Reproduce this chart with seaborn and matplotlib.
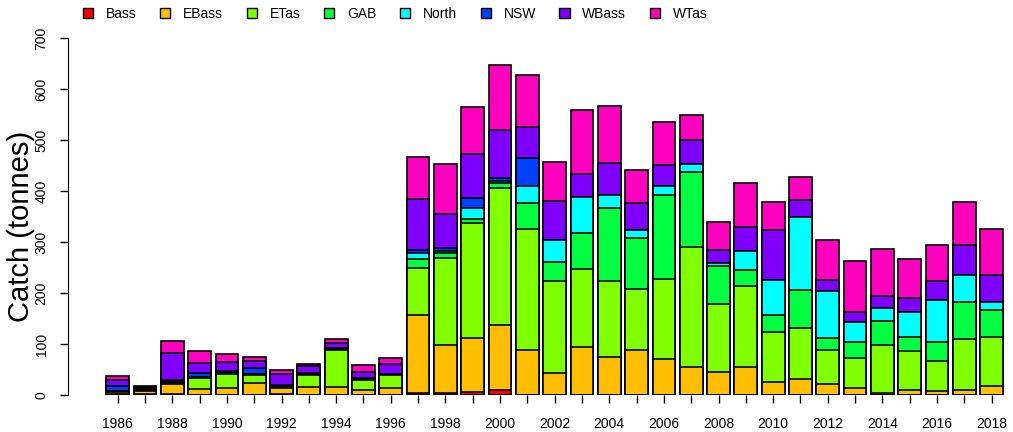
import numpy as np
import pandas as pd
import matplotlib
matplotlib.use("Agg")
import matplotlib.pyplot as plt
from matplotlib.patches import Patch
import seaborn as sns

# catch by zone, 1986-2018 (tonnes)
years = list(range(1986, 2019))
zones = ["Bass", "EBass", "ETas", "GAB", "North", "NSW", "WBass", "WTas"]
colors = ["#FF0000", "#FFBF00", "#80FF00", "#00FF40",
          "#00FFFF", "#0040FF", "#8000FF", "#FF00BF"]

bass = [1, 1, 1, 0, 0, 0, 1, 0, 0, 0, 0, 3, 4, 6, 10, 0, 0, 0, 0, 0, 0,
        0, 0, 0, 0, 0, 0, 0, 0, 0, 0, 0, 0]
ebass = [5, 7, 20, 11, 13, 23, 13, 15, 15, 10, 14, 153, 94, 106, 127, 88,
         43, 94, 75, 88, 71, 54, 46, 54, 26, 32, 22, 14, 4, 10, 8, 10, 18]
etas = [1, 1, 3, 23, 28, 17, 1, 25, 73, 19, 25, 93, 171, 226, 268, 238,
        180, 153, 149, 119, 156, 236, 132, 160, 98, 99, 67, 59, 94, 76, 58,
        99, 96]
gab = [1, 1, 2, 1, 2, 1, 1, 1, 2, 1, 1, 18, 9, 8, 10, 50, 37, 71, 143,
       100, 166, 147, 74, 32, 32, 75, 22, 30, 47, 28, 38, 73, 52]
north = [0, 1, 1, 1, 1, 1, 0, 1, 1, 1, 0, 11, 4, 21, 5, 34, 43, 71, 25,
         17, 17, 16, 6, 36, 69, 144, 92, 40, 25, 49, 82, 53, 17]
nsw = [10, 2, 2, 8, 4, 10, 3, 1, 2, 2, 1, 6, 6, 19, 5, 55, 0, 0, 0, 0, 0,
       0, 0, 0, 0, 0, 0, 0, 0, 0, 0, 0, 0]
wbass = [12, 3, 53, 19, 17, 15, 22, 13, 9, 13, 20, 100, 67, 87, 95, 60,
         78, 44, 63, 52, 41, 47, 26, 47, 98, 32, 22, 19, 25, 27, 38, 59, 53]
wtas = [8, 2, 24, 24, 15, 7, 8, 4, 8, 13, 11, 83, 98, 92, 128, 102, 76,
        125, 112, 65, 84, 49, 56, 87, 55, 45, 79, 101, 92, 77, 71, 84, 89]

df = pd.DataFrame({"Year": [str(y) for y in years], "Bass": bass,
                   "EBass": ebass, "ETas": etas, "GAB": gab, "North": north,
                   "NSW": nsw, "WBass": wbass, "WTas": wtas})

# cumulative totals so each zone can be overdrawn from the top down
cum = df[zones].cumsum(axis=1)

sns.set_style("white")
plt.rcParams["font.family"] = ["Liberation Sans", "DejaVu Sans"]
plt.rcParams["text.color"] = "black"
plt.rcParams["xtick.color"] = "black"
plt.rcParams["ytick.color"] = "black"
plt.rcParams["axes.labelcolor"] = "black"

fig = plt.figure(figsize=(10.13, 4.32), dpi=100)
ax = fig.add_axes([68 / 1013, 37 / 432, 940 / 1013, 0.85])

for zone, col in reversed(list(zip(zones, colors))):
    sns.barplot(x=df["Year"], y=cum[zone], color=col, edgecolor="black",
                linewidth=1.2, width=0.833, saturation=1, ax=ax,
                order=df["Year"].tolist())

ax.set_xlim(-1.82, 32.6)
ax.set_ylim(0, 720)

for s in ["top", "right", "bottom"]:
    ax.spines[s].set_visible(False)
ax.spines["left"].set_bounds(0, 700)
ax.spines["left"].set_color("black")

ax.set_xticks(range(len(years)))
ax.set_xticklabels([str(y) if (y - 1986) % 2 == 0 else "" for y in years],
                   fontsize=10)
ax.set_yticks(range(0, 701, 100))
ax.set_yticklabels([str(v) for v in range(0, 701, 100)], fontsize=10,
                   rotation=90, va="center")
ax.tick_params(axis="x", length=6, width=1, pad=10, bottom=True)
ax.tick_params(axis="y", length=6, width=1, pad=8, left=True)

ax.set_xlabel("")
ax.set_ylabel("Catch (tonnes)", fontsize=21)
ax.yaxis.set_label_coords(-0.035, 0.46)

handles = [Patch(facecolor=c, edgecolor="black", linewidth=1) for c in colors]
fig.legend(handles, zones, loc="upper left", ncol=8,
           bbox_to_anchor=(80 / 1013, 1 - 4 / 432), frameon=False,
           fontsize=10, handlelength=0.75, handleheight=0.75,
           handletextpad=0.9, columnspacing=1.7, borderpad=0.2,
           borderaxespad=0)

fig.savefig("out.png", dpi=100)
